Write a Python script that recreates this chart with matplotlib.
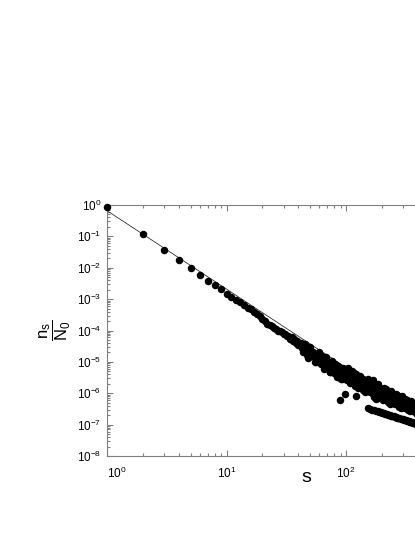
import numpy as np
import matplotlib
matplotlib.use("Agg")
import matplotlib.pyplot as plt
from matplotlib.ticker import LogLocator, NullFormatter

plt.rcParams['font.family'] = ['Liberation Sans', 'DejaVu Sans']
plt.rcParams['mathtext.fontset'] = 'custom'
plt.rcParams['mathtext.rm'] = 'Liberation Sans'
plt.rcParams['mathtext.it'] = 'Liberation Sans'
plt.rcParams['mathtext.bf'] = 'Liberation Sans:bold'
plt.rcParams['mathtext.default'] = 'regular'
plt.rcParams['axes.unicode_minus'] = False

# cluster sizes s and log10(n_s / N0)
s_head = [1, 2, 3, 4, 5, 6, 7, 8, 9, 10]
log_ns_head = [-0.056, -0.932, -1.42, -1.76, -2.0, -2.24, -2.42, -2.55, -2.68, -2.84]

s_mid = list(range(11, 41))
log_ns_mid = [-2.93, -3.03, -3.10, -3.18, -3.28, -3.33, -3.42, -3.47, -3.55, -3.62,
              -3.70, -3.78, -3.84, -3.86, -3.92, -3.94, -4.00, -4.02, -4.05, -4.12,
              -4.10, -4.18, -4.16, -4.26, -4.22, -4.33, -4.28, -4.40, -4.32, -4.45]

s_body_even = list(range(42, 151, 2))
log_ns_body_even = [-4.39, -4.69, -4.59, -4.89, -4.53, -4.82, -4.81, -5.00, -4.79,
                    -4.78, -5.06, -4.95, -5.23, -4.86, -5.14, -5.13, -5.31, -5.08,
                    -5.06, -5.34, -5.22, -5.49, -5.12, -5.39, -5.37, -5.54, -5.31,
                    -5.29, -5.56, -5.31, -5.58, -5.20, -5.48, -5.45, -5.62, -5.39,
                    -5.35, -5.62, -5.49, -5.76, -5.38, -5.64, -5.61, -5.78, -5.55,
                    -5.51, -5.78, -5.65, -5.91, -5.53, -5.79, -5.76, -5.92, -5.69,
                    -5.65]

s_body_odd = list(range(43, 150, 2))
log_ns_body_odd = [-4.56, -4.44, -4.78, -4.63, -4.80, -4.67, -5.01, -4.85, -4.69,
                   -4.94, -4.80, -5.13, -4.97, -5.13, -4.99, -5.32, -5.15, -4.98,
                   -5.23, -5.07, -5.40, -5.22, -5.38, -5.23, -5.56, -5.38, -5.20,
                   -5.45, -5.29, -5.51, -5.33, -5.48, -5.34, -5.66, -5.48, -5.29,
                   -5.53, -5.37, -5.69, -5.51, -5.65, -5.50, -5.82, -5.64, -5.45,
                   -5.69, -5.53, -5.84, -5.66, -5.80, -5.65, -5.96, -5.78, -5.59]

s_stray = [89, 98, 121, 167]
log_ns_stray = [-6.22, -6.02, -6.10, -5.58]

s_tail_a = list(range(152, 417, 6))
log_ns_tail_a = [-5.56, -5.95, -5.80, -6.11, -5.74, -5.99, -5.85, -6.14, -6.01,
                 -5.82, -6.15, -6.02, -6.29, -5.96, -6.18, -6.05, -6.31, -6.18,
                 -6.02, -6.31, -6.19, -6.43, -6.13, -6.32, -6.21, -6.44, -6.33,
                 -6.18, -6.43, -6.33, -6.54, -6.28, -6.45, -6.34, -6.54, -6.44,
                 -6.31, -6.54, -6.44, -6.63, -6.40, -6.55, -6.46, -6.64, -6.55]

s_tail_b = list(range(155, 414, 6))
log_ns_tail_b = [-5.82, -5.64, -6.02, -5.81, -6.18, -5.70, -6.05, -5.86, -6.20,
                 -6.04, -5.88, -6.21, -6.03, -6.34, -5.92, -6.23, -6.06, -6.35,
                 -6.21, -6.07, -6.35, -6.19, -6.47, -6.09, -6.36, -6.21, -6.48,
                 -6.35, -6.22, -6.47, -6.33, -6.58, -6.24, -6.48, -6.34, -6.58,
                 -6.46, -6.35, -6.58, -6.44, -6.67, -6.36, -6.58, -6.46]

s_floor = list(range(154, 419, 6))
log_ns_floor = [-6.485, -6.504, -6.524, -6.543, -6.560, -6.579, -6.596, -6.612,
                -6.628, -6.643, -6.658, -6.673, -6.687, -6.701, -6.715, -6.728,
                -6.741, -6.753, -6.766, -6.778, -6.790, -6.801, -6.812, -6.823,
                -6.834, -6.845, -6.855, -6.866, -6.875, -6.885, -6.895, -6.903,
                -6.913, -6.923, -6.931, -6.940, -6.948, -6.957, -6.966, -6.974,
                -6.981, -6.990, -6.998, -7.006, -7.013]

# fitted power law, end points
fit_s = [1, 1000]
fit_ns = [0.66, 2.1e-8]

s_all = np.array(s_head + s_mid + s_body_even + s_body_odd + s_stray
                 + s_tail_a + s_tail_b + s_floor)
ns_all = 10.0 ** np.array(log_ns_head + log_ns_mid + log_ns_body_even
                          + log_ns_body_odd + log_ns_stray + log_ns_tail_a
                          + log_ns_tail_b + log_ns_floor)

fig = plt.figure(figsize=(4.15, 5.37), dpi=100)
ax = fig.add_axes([107 / 415, 1 - 456 / 537, 358.5 / 415, 251 / 537])

ax.plot(fit_s, fit_ns, color='#333333', lw=0.6, zorder=2)
ax.plot(s_all, ns_all, 'o', color='black', ms=5.4, mew=0, zorder=3, clip_on=False)

ax.set_xscale('log')
ax.set_yscale('log')
ax.set_xlim(1, 1000)
ax.set_ylim(1e-8, 1)

for axis in (ax.xaxis, ax.yaxis):
    axis.set_major_locator(LogLocator(base=10, numticks=100))
    axis.set_minor_locator(LogLocator(base=10, subs=np.arange(2, 10), numticks=100))
    axis.set_minor_formatter(NullFormatter())

ax.tick_params(which='both', direction='in', top=True, right=True, width=0.8,
               color='#808080', labelsize=8.5)
ax.tick_params(which='major', length=4.5)
ax.tick_params(which='minor', length=2.5)
ax.tick_params(axis='x', pad=7)
ax.tick_params(axis='y', pad=4)
for sp in ax.spines.values():
    sp.set_linewidth(0.8)
    sp.set_color('#808080')

ax.set_xlabel('s', fontsize=14)
ax.xaxis.set_label_coords(0.555, -0.104)
ax.xaxis.label.set_va('baseline')

ax.set_ylabel(r'$\dfrac{n_s}{N_0}$', fontsize=12)
ax.yaxis.set_label_coords(-0.145, 0.5)
ax.yaxis.label.set_va('center')

fig.canvas.draw()
for t in ax.xaxis.get_major_ticks():
    if abs(t.get_loc() - 1.0) < 1e-9:
        t.label1.set_horizontalalignment('left')
    if t.get_loc() > 500:
        t.label1.set_visible(False)

fig.savefig('out.png', dpi=100)
